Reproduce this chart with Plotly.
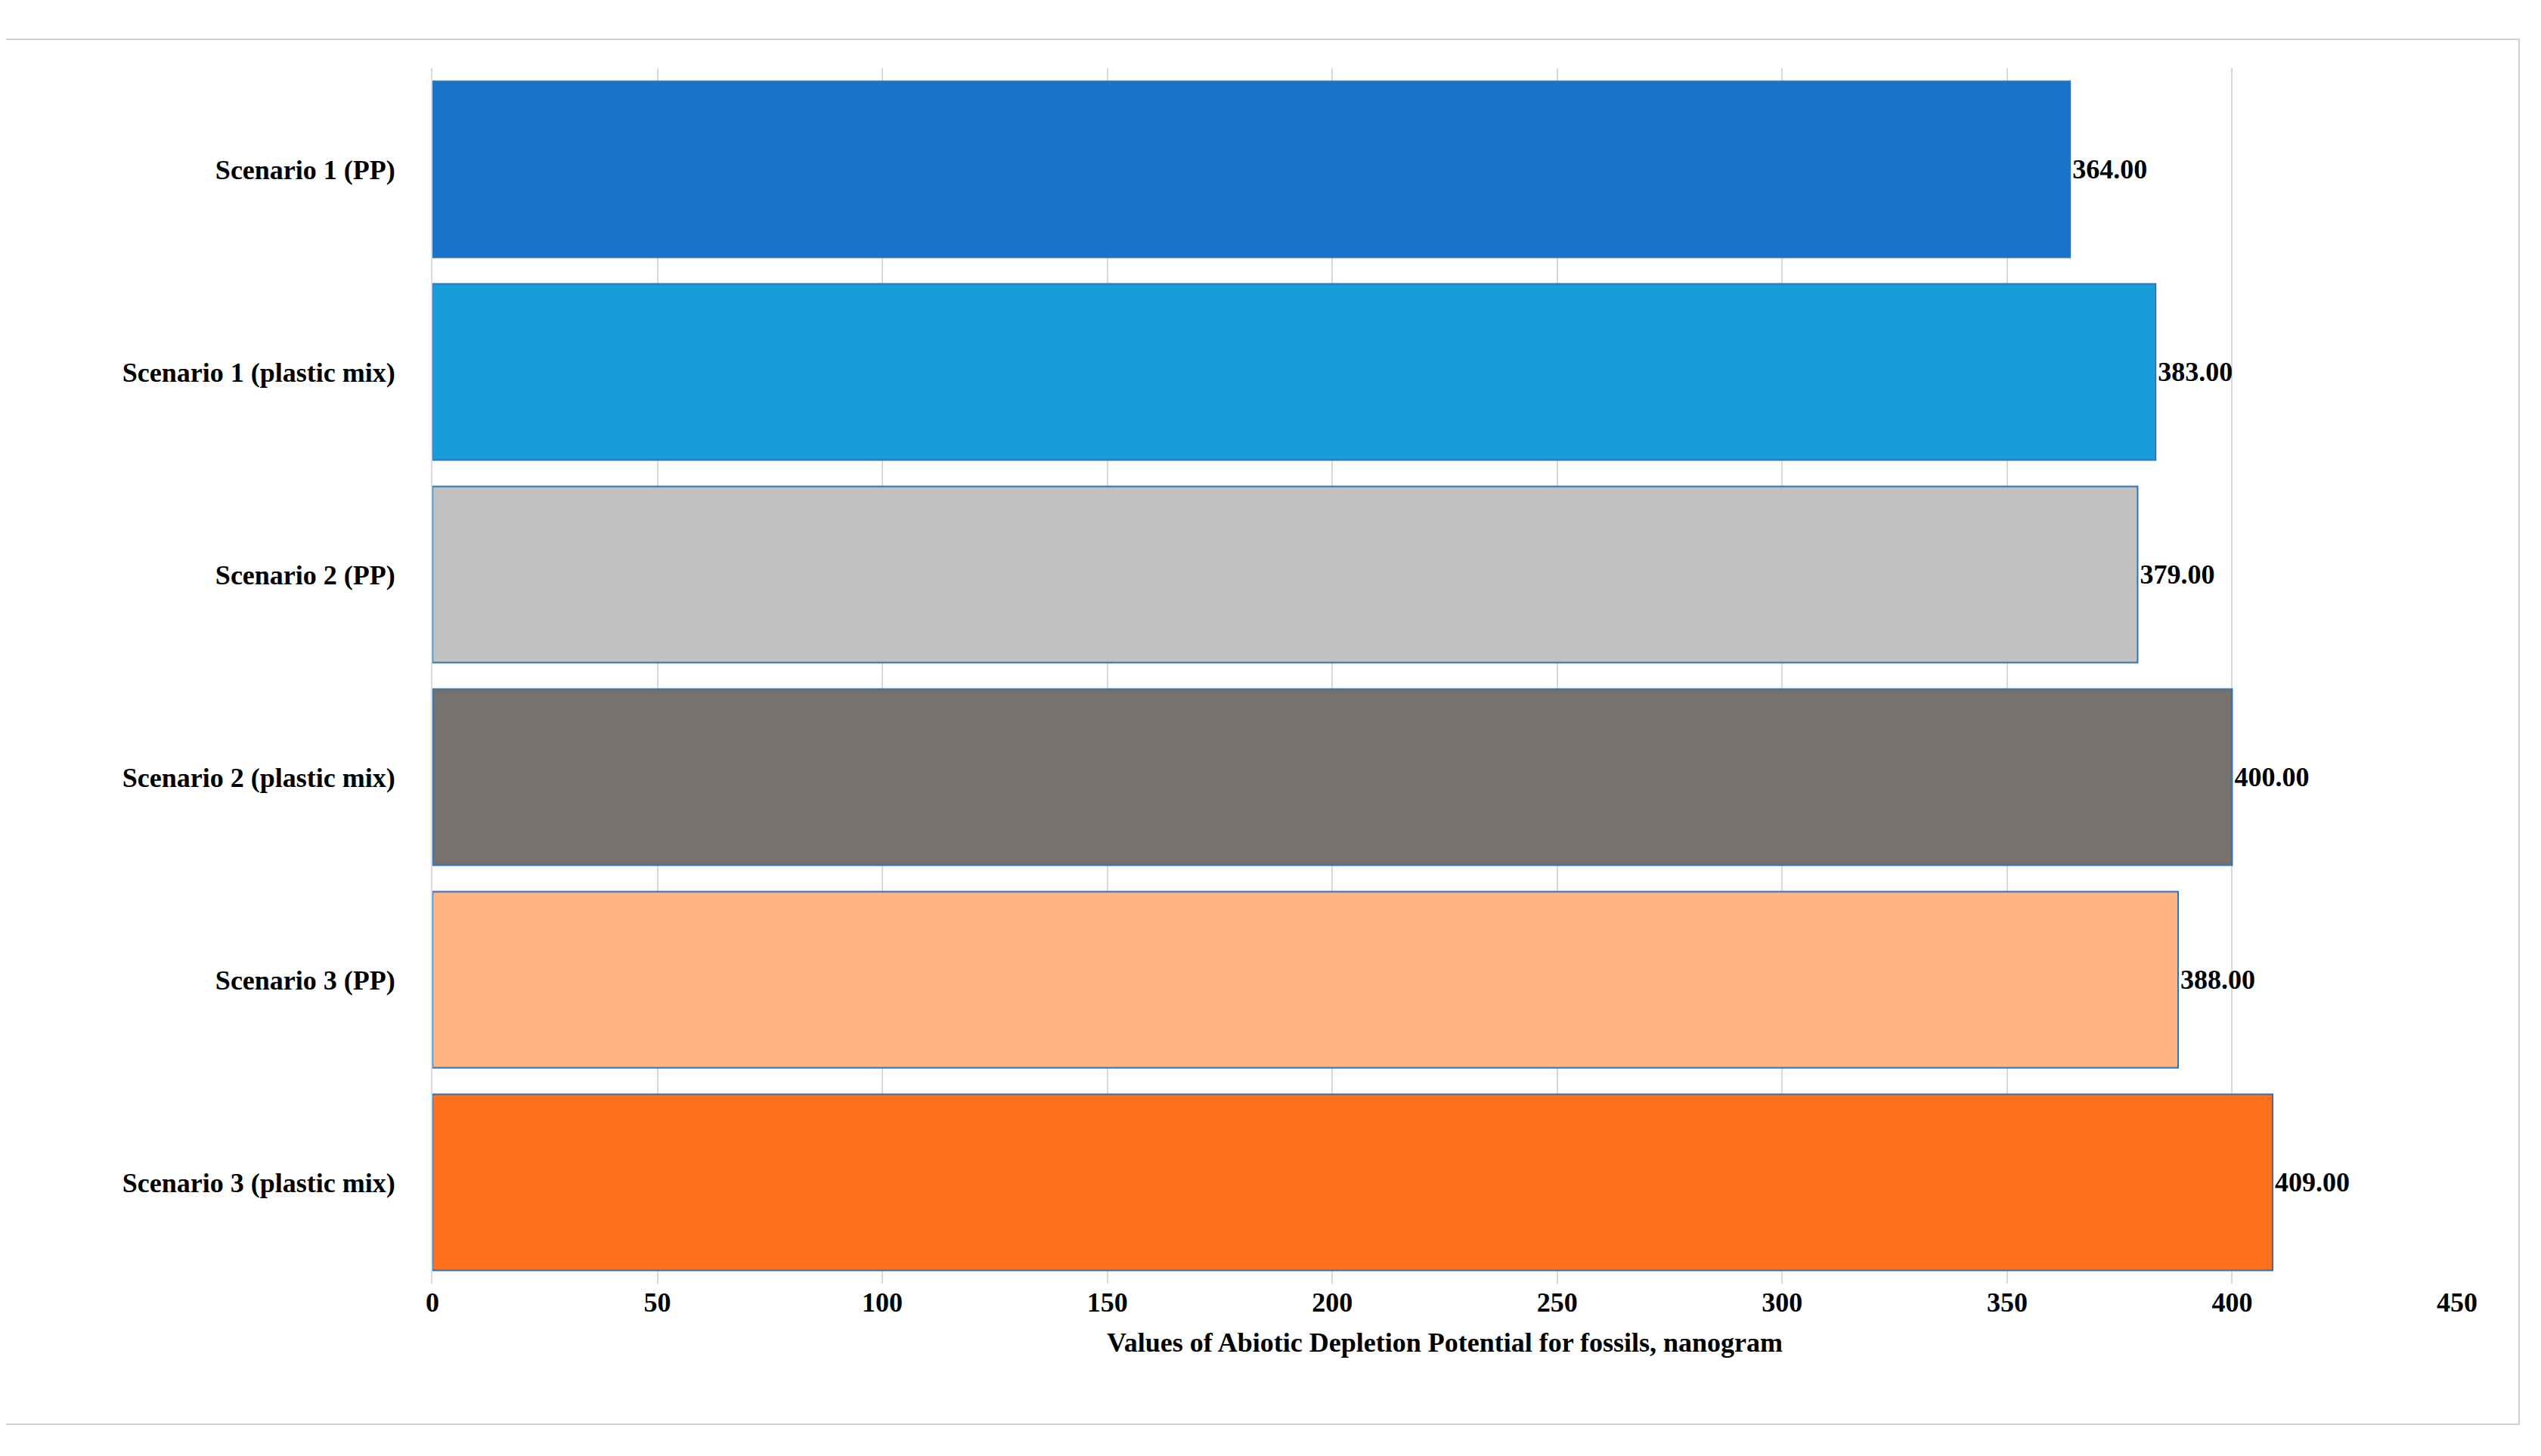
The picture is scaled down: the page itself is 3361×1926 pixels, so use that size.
import plotly.graph_objects as go

categories = ["Scenario 1 (PP)", "Scenario 1 (plastic mix)", "Scenario 2 (PP)",
              "Scenario 2 (plastic mix)", "Scenario 3 (PP)", "Scenario 3 (plastic mix)"]
values = [364, 383, 379, 400, 388, 409]
colors = ["#1772C9", "#199CD8", "#C0C0C0", "#78726F", "#FFB385", "#FF6F1E"]
tick_vals = [0, 50, 100, 150, 200, 250, 300, 350, 400, 450]

font = "Liberation Serif"
fig = go.Figure(go.Bar(
    y=categories, x=values, orientation="h",
    marker=dict(color=colors, line=dict(color="#2E75B6", width=2)),
    text=[f"{v:.2f}" for v in values], textposition="outside",
    textfont=dict(family=font, size=36, color="black"), cliponaxis=False,
))
fig.update_layout(
    width=3361, height=1926, paper_bgcolor="white", plot_bgcolor="white",
    margin=dict(l=564, r=119, t=82, b=236), bargap=0.13, showlegend=False,
    font=dict(family=font, size=36, color="black"),
    shapes=[dict(type="rect", xref="paper", yref="paper", x0=-0.2116, x1=1.0306,
                 y0=-0.1156, y1=1.0237, line=dict(color="#D0D0D0", width=2))],
)
fig.update_xaxes(range=[0, 450], tickvals=tick_vals, showgrid=True, gridcolor="#D9D9D9",
                 gridwidth=2, zeroline=False, showline=False, ticks="",
                 tickfont=dict(family=font, size=36, color="black"),
                 title=dict(text="<b>Values of Abiotic Depletion Potential for fossils, nanogram</b>",
                            font=dict(family=font, size=36), standoff=20))
fig.update_yaxes(autorange="reversed", showline=True, linecolor="#D9D9D9", linewidth=2,
                 ticks="", ticklabelstandoff=40,
                 tickvals=categories, ticktext=[f"<b>{c}</b>" for c in categories],
                 tickfont=dict(family=font, size=36, color="black"))
fig.update_xaxes(tickvals=tick_vals, ticktext=[f"<b>{t}</b>" for t in tick_vals])
fig.update_traces(texttemplate="<b>%{x:.2f}</b>")
fig.write_html("out.html")
